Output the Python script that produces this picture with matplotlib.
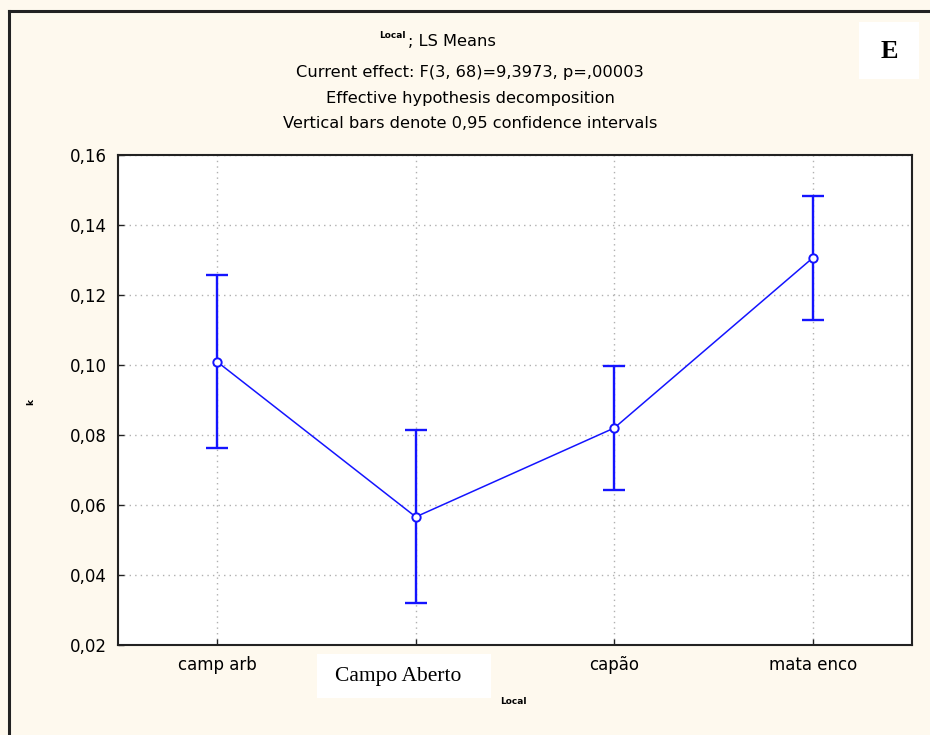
import matplotlib
matplotlib.use("Agg")
import matplotlib.pyplot as plt
from matplotlib.patches import Rectangle
from matplotlib.lines import Line2D

# LS means of k by site, with 0.95 confidence limits
categories = ["camp arb", "Campo Aberto", "capão", "mata enco"]
means = [0.1009, 0.0566, 0.0820, 0.1306]
upper = [0.1257, 0.0814, 0.0997, 0.1483]
lower = [0.0763, 0.0320, 0.0643, 0.1129]
yticks = [0.02, 0.04, 0.06, 0.08, 0.10, 0.12, 0.14, 0.16]
ytick_labels = ["0,02", "0,04", "0,06", "0,08", "0,10", "0,12", "0,14", "0,16"]

title_lines = [
    "Current effect: F(3, 68)=9,3973, p=,00003",
    "Effective hypothesis decomposition",
    "Vertical bars denote 0,95 confidence intervals",
]

bg = "#fef9ee"
blue = "#1414ff"
W, H = 930, 735

fig = plt.figure(figsize=(W / 100, H / 100), dpi=100, facecolor=bg)

# outer frame (left and top edges)
fig.add_artist(Line2D([9 / W, 9 / W], [0, 1 - 11 / H], transform=fig.transFigure,
                      color="#222222", lw=2.2))
fig.add_artist(Line2D([9 / W, 1], [1 - 11 / H, 1 - 11 / H], transform=fig.transFigure,
                      color="#222222", lw=2.2))

ax = fig.add_axes([118 / W, 1 - 645 / H, 794 / W, 490 / H])
ax.set_facecolor("white")

x = list(range(len(categories)))
yerr = [[m - lo for m, lo in zip(means, lower)], [up - m for m, up in zip(means, upper)]]
ax.plot(x, means, color=blue, lw=1.1, zorder=3)
ax.errorbar(x, means, yerr=yerr, fmt="none", ecolor=blue, elinewidth=1.7,
            capsize=8, capthick=1.7, zorder=3)
ax.plot(x, means, "o", color=blue, mfc="white", mec=blue, ms=6, mew=1.4, zorder=4)

ax.set_xlim(-0.5, 3.5)
ax.set_ylim(0.02, 0.16)
ax.set_yticks(yticks)
ax.set_yticklabels(ytick_labels, fontsize=12, family="DejaVu Sans")
ax.set_xticks(x)
ax.set_xticklabels(["camp arb", "", "capão", "mata enco"], fontsize=12, family="DejaVu Sans")
ax.tick_params(direction="in", length=4, width=1.0, color="#222222", pad=8)
ax.grid(True, color="#b0b0b0", linestyle=(0, (1, 3)), lw=1.0)
ax.set_axisbelow(True)
for s in ax.spines.values():
    s.set_color("#222222")
    s.set_linewidth(1.5)

# axis labels
fig.text(513 / W, 1 - 702 / H, "Local", fontsize=6.5, fontweight="bold",
         ha="center", va="center")
fig.text(31 / W, 1 - 402 / H, "k", fontsize=6.5, fontweight="bold",
         ha="center", va="center", rotation=90)

# titles
fig.text(392 / W, 1 - 36 / H, "Local", fontsize=6.5, fontweight="bold", ha="center", va="center")
fig.text(408 / W, 1 - 42 / H, "; LS Means", fontsize=11.7, ha="left", va="center")
for yy, line in zip([72, 99, 124], title_lines):
    fig.text(470 / W, 1 - yy / H, line, fontsize=11.7, ha="center", va="center")

# "E" panel label
fig.add_artist(Rectangle((859 / W, 1 - 79 / H), 60 / W, 57 / H, transform=fig.transFigure,
                         facecolor="white", edgecolor="none"))
fig.text(889 / W, 1 - 51 / H, "E", fontsize=19, fontweight="bold", family="Liberation Serif",
         ha="center", va="center")

# second category label in its own box
fig.add_artist(Rectangle((317 / W, 1 - 698 / H), 174 / W, 44 / H, transform=fig.transFigure,
                         facecolor="white", edgecolor="none"))
fig.text(398 / W, 1 - 677 / H, categories[1], fontsize=15.5, family="Liberation Serif",
         ha="center", va="center")

fig.savefig("out.png", dpi=100, facecolor=bg)
